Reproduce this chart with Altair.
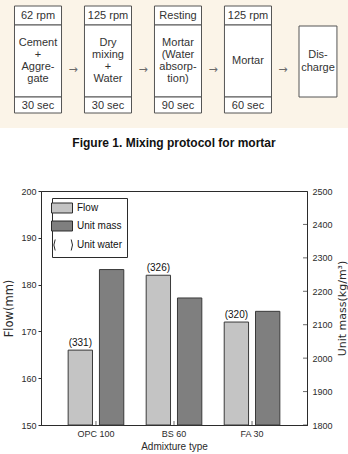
import altair as alt
import pandas as pd

# ---------------- mixing protocol ----------------
STEP_SPEED = ["62 rpm", "125 rpm", "Resting", "125 rpm"]
STEP_BODY = [
    ["Cement", "+", "Aggre-", "gate"],
    ["Dry", "mixing", "+", "Water"],
    ["Mortar", "(Water", "absorp-", "tion)"],
    ["Mortar"],
]
STEP_TIME = ["30 sec", "30 sec", "90 sec", "60 sec"]
FINAL_STEP = ["Dis-", "charge"]
CAPTION = "Figure 1. Mixing protocol for mortar"

# ---------------- test results ----------------
MIXES = ["OPC 100", "BS 60", "FA 30"]
FLOW = [166, 182, 172]                 # mm
UNIT_MASS = [2265, 2180, 2140]         # kg/m3
UNIT_WATER = [331, 326, 320]           # kg/m3
FLOW_TICKS = [150, 160, 170, 180, 190, 200]
MASS_TICKS = [1800, 1900, 2000, 2100, 2200, 2300, 2400, 2500]
SERIES = ["Flow", "Unit mass", "Unit water"]
SERIES_FILL = ["#c4c4c4", "#7f7f7f", "rgba(0,0,0,0)"]

SANS = "Liberation Sans, Arial, sans-serif"
WIDE = "DejaVu Sans, sans-serif"
INK = "#2b2b2b"

# ---------------- page frame ----------------
PAGE_W, PAGE_H = 348, 454
PAD = {"left": 41, "top": 191, "right": 41, "bottom": 29}
W = PAGE_W - PAD["left"] - PAD["right"]
H = PAGE_H - PAD["top"] - PAD["bottom"]

# ---------------- protocol panel (panel units) ----------------
PANEL_X = [-0.543, 4.429]        # step index across the panel width
PANEL_H = 128
BOX_HALF, FINAL_HALF = 0.336, 0.271
BOX_TOP, HEAD_END, FOOT_START, BOX_END = 6, 25, 97, 113
FINAL_TOP, FINAL_END = 26, 97
HEAD_MID, FOOT_MID, BODY_MID, LINE_GAP, ARROW_Y = 15.5, 105.5, 61, 12.2, 69.5
CAPTION_Y = 143

sections, texts = [], []
for i, (sp, body, tm) in enumerate(zip(STEP_SPEED, STEP_BODY, STEP_TIME)):
    for y0, y1 in [(BOX_TOP, HEAD_END), (HEAD_END, FOOT_START), (FOOT_START, BOX_END)]:
        sections.append(dict(x0=i - BOX_HALF, x1=i + BOX_HALF, y0=y0, y1=y1))
    texts.append(dict(pos=i, y=HEAD_MID, text=sp))
    texts.append(dict(pos=i, y=FOOT_MID, text=tm))
    n = len(body)
    for k, line in enumerate(body):
        texts.append(dict(pos=i, y=BODY_MID + (k - (n - 1) / 2) * LINE_GAP, text=line))
last = len(STEP_SPEED)
sections.append(dict(x0=last - FINAL_HALF, x1=last + FINAL_HALF, y0=FINAL_TOP, y1=FINAL_END))
for k, line in enumerate(FINAL_STEP):
    texts.append(dict(pos=last, y=(FINAL_TOP + FINAL_END) / 2 + (k - 0.5) * LINE_GAP, text=line))
arrows = pd.DataFrame({"pos": [i + 0.5 for i in range(last)], "y": ARROW_Y})
panel = pd.DataFrame({"x0": [PANEL_X[0]], "x1": [PANEL_X[1]], "y0": [0], "y1": [PANEL_H]})
caption = pd.DataFrame({"pos": [sum(PANEL_X) / 2], "y": [CAPTION_Y], "text": [CAPTION]})

# the panel spans the whole page width and sits above the plot frame
span = (PANEL_X[1] - PANEL_X[0]) / PAGE_W
xs = alt.Scale(domain=[PANEL_X[0] + span * PAD["left"], PANEL_X[0] + span * (PAD["left"] + W)],
               nice=False, zero=False)
ys = alt.Scale(domain=[PAD["top"], PAD["top"] + H], nice=False, zero=False, reverse=True)

def px(field):
    return alt.X(field, type="quantitative", scale=xs, axis=None)

def py(field):
    return alt.Y(field, type="quantitative", scale=ys, axis=None)

backdrop = alt.Chart(panel).mark_rect(fill="#fbf4e8").encode(
    x=px("x0"), x2="x1:Q", y=py("y0"), y2="y1:Q")
boxes = alt.Chart(pd.DataFrame(sections)).mark_rect(
    fill="white", stroke="#555555", strokeWidth=1
).encode(x=px("x0"), x2="x1:Q", y=py("y0"), y2="y1:Q")
box_text = alt.Chart(pd.DataFrame(texts)).mark_text(
    font=SANS, fontSize=11, color="#333333"
).encode(x=px("pos"), y=py("y"), text="text:N")
arrow_marks = alt.Chart(arrows).mark_text(
    text="→", font=WIDE, fontSize=11, color="#6a6a6a"
).encode(x=px("pos"), y=py("y"))
caption_mark = alt.Chart(caption).mark_text(
    font=SANS, fontSize=12, fontWeight="bold", color="#111111"
).encode(x=px("pos"), y=py("y"), text="text:N")

protocol = alt.layer(backdrop, boxes, box_text, arrow_marks, caption_mark)

# ---------------- bar chart ----------------
flow_df = pd.DataFrame({
    "mix": MIXES, "series": "Flow", "flow": FLOW,
    "water": [f"({w})" for w in UNIT_WATER],
})
mass_df = pd.DataFrame({"mix": MIXES, "series": "Unit mass", "mass": UNIT_MASS})
mass_tick_df = pd.DataFrame({"mass": MASS_TICKS})
key_df = pd.DataFrame({"series": SERIES})

x_enc = alt.X(
    "mix:N", sort=MIXES,
    scale=alt.Scale(domain=MIXES, paddingInner=0.287, paddingOuter=0.348),
    axis=alt.Axis(
        title="Admixture type", ticks=False, labelAngle=0, labelPadding=4,
        labelFont=SANS, labelFontSize=9, labelColor=INK,
        titleFont=SANS, titleFontSize=10, titleFontWeight="normal",
        titleColor=INK, titlePadding=3, domainColor=INK,
    ),
)
x_off = alt.XOffset("series:N", scale=alt.Scale(domain=SERIES[:2], paddingInner=0.222))

key = alt.Legend(
    title=None, orient="none", legendX=11, legendY=7, padding=4,
    strokeColor=INK, fillColor="white", cornerRadius=0,
    symbolSize=110.25, symbolStrokeColor=INK, symbolStrokeWidth=1,
    labelFont=SANS, labelFontSize=10, labelColor="#111111",
    labelOffset=9, rowPadding=4,
)
fill_enc = alt.Fill("series:N", scale=alt.Scale(domain=SERIES, range=SERIES_FILL), legend=key)
shape_enc = alt.Shape(
    "series:N",
    scale=alt.Scale(domain=SERIES, range=[
        "M-2,-0.95H2V0.95H-2Z",
        "M-2,-0.95H2V0.95H-2Z",
        "M-1.3,-1.05Q-1.8,0,-1.3,1.05M1.75,-1.05Q2.25,0,1.75,1.05",
    ]),
    legend=key,
)

flow_scale = alt.Scale(domain=[150, 200], nice=False, zero=False)
mass_scale = alt.Scale(domain=[1800, 2500], nice=False, zero=False)

flow_y = alt.Y(
    "flow:Q", scale=flow_scale,
    axis=alt.Axis(
        values=FLOW_TICKS, orient="left", grid=False, title="Flow(mm)",
        tickSize=3, tickColor=INK, domainColor=INK, labelPadding=2,
        labelFont=SANS, labelFontSize=9, labelColor=INK,
        titleFont=WIDE, titleFontSize=11.5, titleFontWeight="normal",
        titleColor=INK, titlePadding=6,
    ),
)
mass_y = alt.Y(
    "mass:Q", scale=mass_scale,
    axis=alt.Axis(
        values=MASS_TICKS, format="d", orient="right", grid=False,
        title="Unit mass(kg/m³)", ticks=False, domainColor=INK, labelPadding=5,
        labelFont=SANS, labelFontSize=9, labelColor=INK,
        titleFont=WIDE, titleFontSize=11, titleFontWeight="normal",
        titleColor=INK, titlePadding=4, titleAngle=270, titleBaseline="top",
    ),
)

# bars rise from the bottom of each value axis
flow_bars = alt.Chart(flow_df).mark_bar(stroke="#3a3a3a", strokeWidth=1).encode(
    x=x_enc, xOffset=x_off, y=flow_y, y2=alt.datum(FLOW_TICKS[0]), fill=fill_enc
)
water_labels = alt.Chart(flow_df).mark_text(
    baseline="bottom", dy=-2, font=SANS, fontSize=10, color="#111111"
).encode(x=x_enc, xOffset=x_off, y=flow_y, text="water:N")
mix_ticks = alt.Chart(flow_df).mark_tick(
    orient="vertical", size=8, thickness=1, color=INK, clip=True
).encode(x=x_enc, y=alt.datum(FLOW_TICKS[0]))
legend_key = alt.Chart(key_df).mark_point(opacity=1, filled=True).encode(
    fill=fill_enc, shape=shape_enc
).transform_filter("false")
flow_layer = alt.layer(flow_bars, water_labels, mix_ticks, legend_key)

mass_bars = alt.Chart(mass_df).mark_bar(stroke="#3a3a3a", strokeWidth=1).encode(
    x=x_enc, xOffset=x_off, y=mass_y, y2=alt.datum(MASS_TICKS[0]), fill=fill_enc
)
mass_ticks = alt.Chart(mass_tick_df).mark_tick(
    orient="horizontal", size=8, thickness=1, color=INK, clip=True
).encode(x=alt.value(W), y=mass_y)
mass_layer = alt.layer(mass_bars, mass_ticks)

results = alt.layer(flow_layer, mass_layer).resolve_scale(y="independent")

chart = alt.layer(protocol, results).resolve_scale(
    x="independent", y="independent"
).properties(
    width=W, height=H, padding=PAD,
    autosize=alt.AutoSizeParams(type="none"),
).configure(background="white").configure_view(stroke=INK, strokeWidth=1)

chart.save("out.html", embed_options={"renderer": "svg", "actions": False})
